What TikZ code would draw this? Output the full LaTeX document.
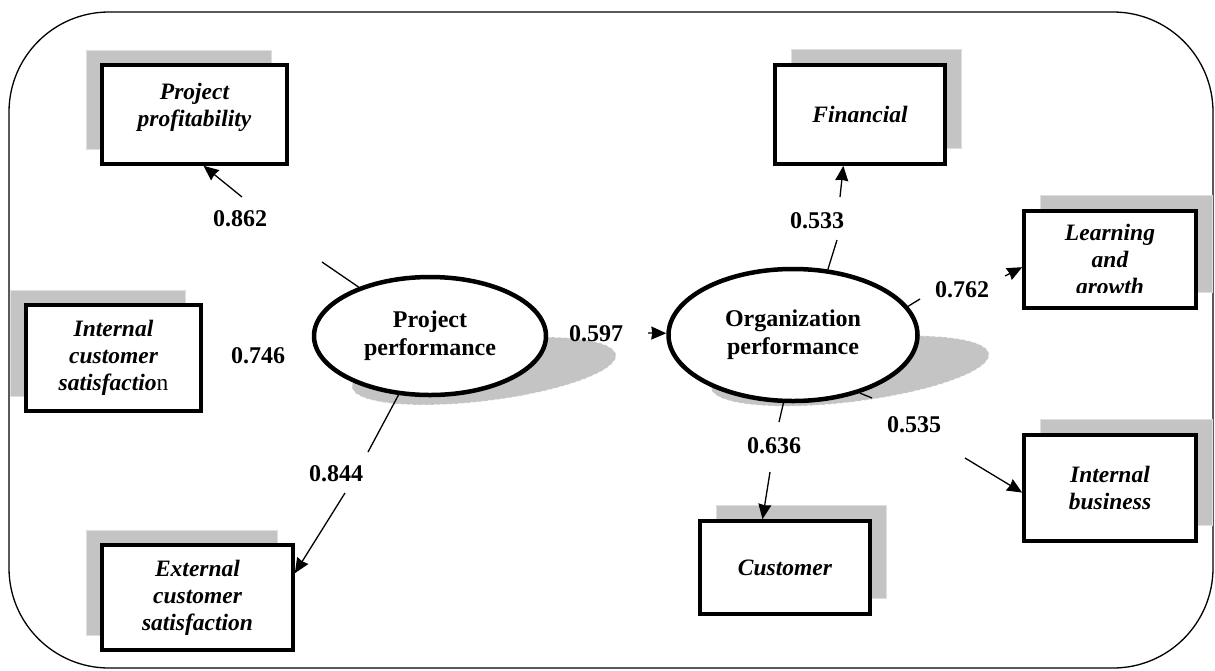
\documentclass[tikz,border=0pt]{standalone}
\usepackage{fontspec}
\setmainfont{Liberation Serif}
\usetikzlibrary{shapes.geometric, shadows, arrows.meta}
\tikzset{>={Stealth[length=15pt, width=13pt, inset=1pt]}}
\definecolor{shadegray}{HTML}{C4C4C4}

\begin{document}
\begin{tikzpicture}[x=1pt, y=-1pt,
  box/.style={draw, line width=3.6pt, fill=white, align=center, inner sep=0pt,
    font=\fontsize{23.5}{27}\selectfont\bfseries\itshape},
  lshadow/.style={drop shadow={shadow xshift=-16pt, shadow yshift=15pt, opacity=1,
    fill=shadegray, draw=gray!25, line width=0.8pt}},
  rshadow/.style={drop shadow={shadow xshift=16pt, shadow yshift=16pt, opacity=1,
    fill=shadegray, draw=gray!25, line width=0.8pt}},
  latent/.style={ellipse, draw, line width=4.5pt, fill=white, align=center, inner sep=0pt,
    font=\fontsize{24}{28}\selectfont\bfseries},
  ellshadow/.style={fill=shadegray, draw=white, dashed, line width=0.6pt},
  coef/.style={font=\fontsize{24}{28}\selectfont\bfseries, inner sep=0pt},
  link/.style={line width=1.3pt}]
\useasboundingbox (0,0) rectangle (1215,670);
\draw[line width=1.3pt, rounded corners=100pt] (9,12) rectangle (1213,668);

\path[ellshadow, rotate around={7:(484,371)}] (484,371) ellipse [x radius=133, y radius=30];
\path[ellshadow, rotate around={7:(850,371)}] (850,371) ellipse [x radius=140, y radius=31];
\node[latent, minimum width=232pt, minimum height=118pt] (projperf) at (430,336) {Project\\performance};
\node[latent, minimum width=249pt, minimum height=132pt] (orgperf) at (793,335) {Organization\\performance};

\node[box, lshadow, minimum width=185pt, minimum height=99pt, text depth=19pt] (pp) at (194.5,114.5) {Project\\profitability};
\node[box, lshadow, minimum width=175pt, minimum height=106pt] (ics) at (113.5,358) {Internal\\customer\\satisfactio{\upshape\mdseries n}};
\node[box, lshadow, minimum width=191pt, minimum height=105pt] (ecs) at (197.5,597.5) {External\\customer\\satisfaction};
\node[box, rshadow, minimum width=170pt, minimum height=99pt] (fin) at (860,114.5) {Financial};
\node[box, rshadow, minimum width=172pt, minimum height=97pt] (lg) at (1110,259.5) {};
\node[box, rshadow, minimum width=170pt, minimum height=93pt] (cus) at (785,567.5) {Customer};
\node[box, rshadow, minimum width=172pt, minimum height=106pt] (ib) at (1110,488) {Internal\\business};
\begin{scope}
  \clip (1024,200) rectangle (1196,292);
  \node[box, draw=none, fill=none] (lgtext) at (1110,262) {Learning\\and\\growth};
\end{scope}

\coordinate (a862) at (322,262);
\coordinate (b862) at (242,197);
\coordinate (a844) at (368,452);
\coordinate (b844) at (345,493);
\coordinate (a597) at (648,333);
\coordinate (a533) at (837,240);
\coordinate (b533) at (840,197);
\coordinate (a762) at (920,299);
\coordinate (b762) at (1005,276);
\coordinate (a535) at (872,398);
\coordinate (b535) at (965,458);
\coordinate (a636) at (779,422);
\coordinate (b636) at (770,472);

\draw[link] (projperf) -- (a862);
\draw[link, ->] (b862) -- (pp.-80);
\draw[link] (projperf) -- (a844);
\draw[link, ->] (b844) -- (ecs.14);
\draw[link, ->] (a597) -- (orgperf);
\draw[link] (orgperf.62) -- (a533);
\draw[link, ->] (b533) -- (fin.-108);
\draw[link] (orgperf.14) -- (a762);
\draw[link, ->] (b762) -- (lg.185);
\draw[link] (orgperf.-41) -- (a535);
\draw[link, ->] (b535) -- (ib.183);
\draw[link] (orgperf.-98) -- (a636);
\draw[link, ->] (b636) -- (cus.115);

\node[coef] (l862) at (240,219) {0.862};
\node[coef] (l746) at (258,356) {0.746};
\node[coef] (l844) at (336,474) {0.844};
\node[coef] (l597) at (596,334) {0.597};
\node[coef] (l533) at (817,221) {0.533};
\node[coef] (l762) at (962,290) {0.762};
\node[coef] (l535) at (914,425) {0.535};
\node[coef] (l636) at (774,446) {0.636};
\end{tikzpicture}
\end{document}
